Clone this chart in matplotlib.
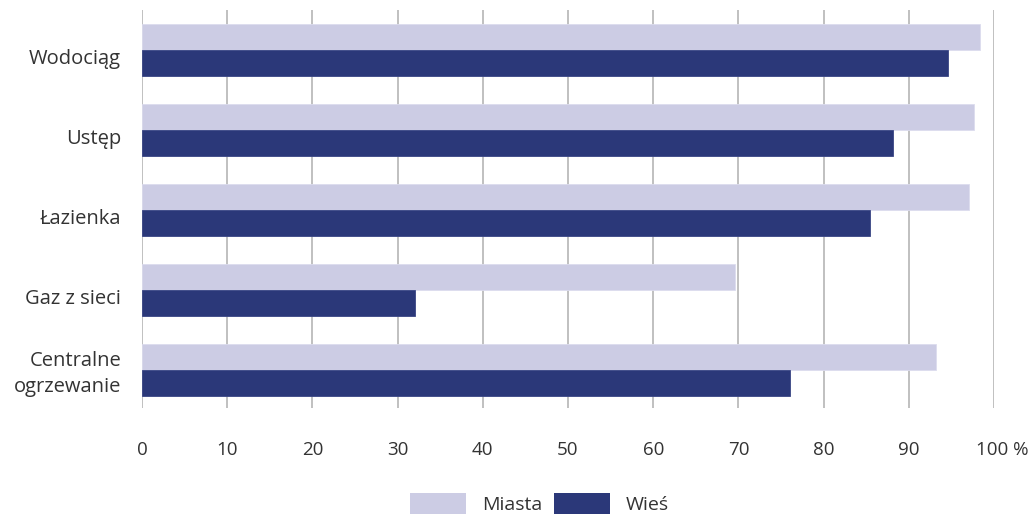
import matplotlib
matplotlib.use("Agg")
import matplotlib.pyplot as plt
import numpy as np
from matplotlib.patches import Patch
from matplotlib.transforms import ScaledTranslation

categories = ["Wodociąg", "Ustęp", "Łazienka", "Gaz z sieci", "Centralne\nogrzewanie"]
miasta = [98.3, 97.7, 97.1, 69.6, 93.2]
wies = [94.6, 88.2, 85.5, 32.0, 76.1]
xticks = [0, 10, 20, 30, 40, 50, 60, 70, 80, 90, 100]
xticklabels = ["0", "10", "20", "30", "40", "50", "60", "70", "80", "90", "100 %"]

C_MIASTA = "#cccce4"
C_WIES = "#2b3879"
TXT = "#333333"

plt.rcParams["font.family"] = ["Open Sans", "DejaVu Sans"]

fig = plt.figure(figsize=(10.33, 5.15), dpi=100)
ax = fig.add_axes([142 / 1033, 107 / 515, 852 / 1033, 398 / 515])

y = np.arange(len(categories))
h = 0.33
ax.barh(y - h / 2, miasta, height=h, color=C_MIASTA, edgecolor="#dcdcee", linewidth=0.6, zorder=3)
ax.barh(y + h / 2, wies, height=h, color=C_WIES, edgecolor="#3a4685", linewidth=0.6, zorder=3)

ax.set_xlim(0, 100)
ax.set_ylim(4.475, -0.5)
ax.set_xticks(xticks)
ax.set_xticklabels(xticklabels)
ax.set_yticks(y)
ax.set_yticklabels(categories, linespacing=1.45)
ax.tick_params(axis="x", length=0, pad=24, labelsize=13.5, labelcolor=TXT)
ax.tick_params(axis="y", length=0, pad=15, labelsize=14.5, labelcolor=TXT)
ax.grid(axis="x", color="#c0c0c0", linewidth=1.4, zorder=0)
for s in ax.spines.values():
    s.set_visible(False)

# shift "100 %" so that the number sits near its gridline
last = ax.get_xticklabels()[-1]
last.set_transform(last.get_transform() + ScaledTranslation(8 / 100, 0, fig.dpi_scale_trans))

# single-line category labels sit a little below the group centre
for lab in ax.get_yticklabels():
    dy = 2 if "\n" in lab.get_text() else -6.5
    lab.set_transform(lab.get_transform() + ScaledTranslation(0, dy / 100, fig.dpi_scale_trans))

handles = [Patch(facecolor=C_MIASTA, label="Miasta"), Patch(facecolor=C_WIES, label="Wieś")]
fig.legend(handles=handles, loc="lower center", bbox_to_anchor=(0.522, -0.032), ncol=2,
           frameon=False, fontsize=14, handlelength=2.9, handleheight=1.3,
           columnspacing=0.6, handletextpad=0.8, labelcolor=TXT)

fig.savefig("out.png", dpi=100)
